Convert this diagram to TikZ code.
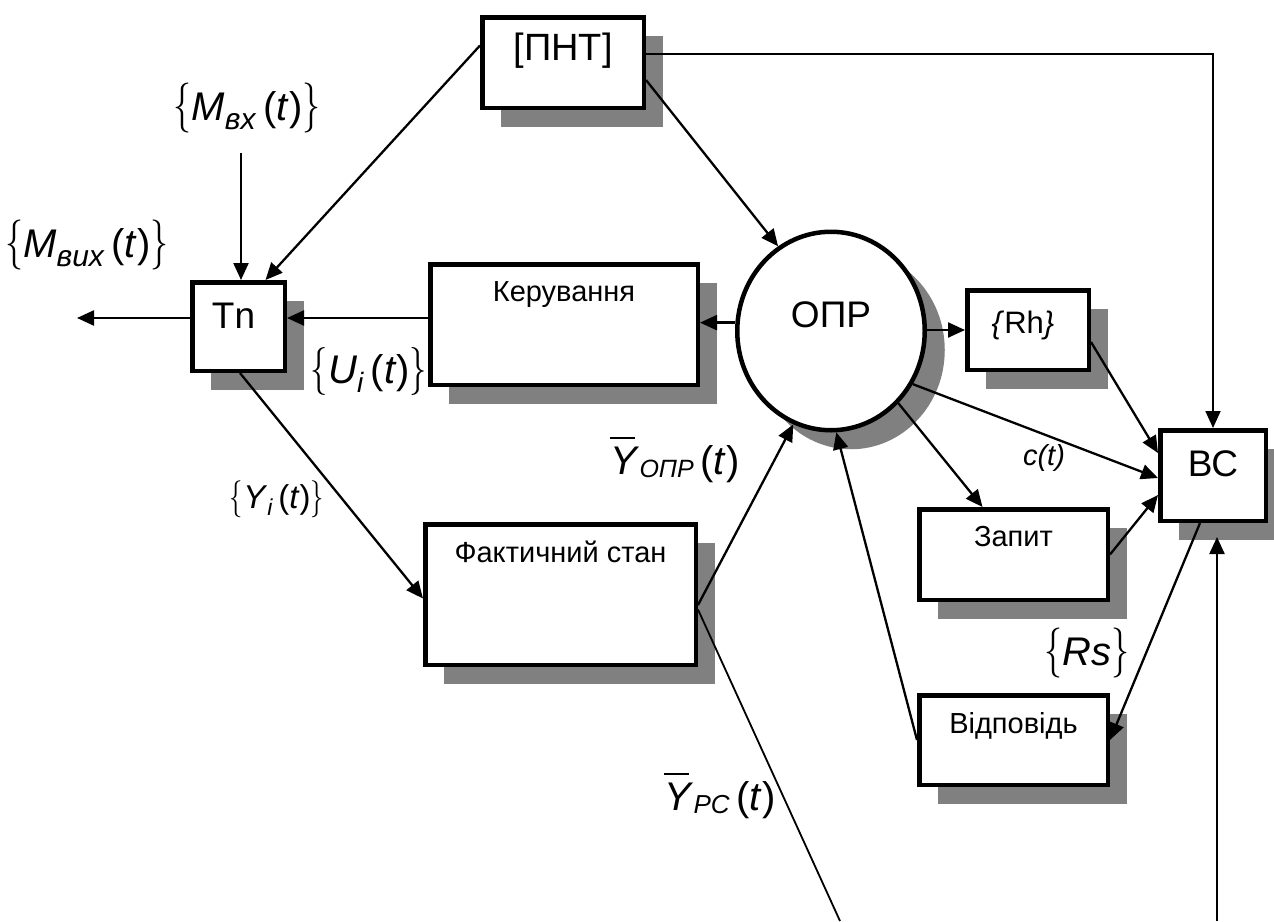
\RequirePackage{fix-cm}
\documentclass[tikz,border=0pt]{standalone}
\usepackage{fontspec}
\usepackage{graphicx}
\setmainfont{Liberation Sans}
\usetikzlibrary{arrows.meta,shapes.geometric,shadows,calc}
\definecolor{shade}{HTML}{808080}

% font size helper, braces, subscripts and the barred Y
\newcommand\fs[1]{\fontsize{#1}{#1}\selectfont}
\newcommand\lbr[1]{\scalebox{0.72}[1]{\fs{#1}$\{$}}
\newcommand\rbr[1]{\scalebox{0.72}[1]{\fs{#1}$\}$}}
\newcommand\sub[3]{\raisebox{-#1}{\fs{#2}\textit{#3}}}
\newcommand\ybar{\rlap{\rule[35pt]{25pt}{1.8pt}}\textit{Y}}

\begin{document}
\begin{tikzpicture}[x=1pt,y=-1pt,
  box/.style={draw, line width=4.5pt, fill=white, inner sep=0pt,
    drop shadow={shadow xshift=19pt, shadow yshift=-19pt, opacity=1, fill=shade}},
  roundbox/.style={ellipse, draw, line width=4.5pt, fill=white, inner sep=0pt,
    drop shadow={shadow xshift=20pt, shadow yshift=-19pt, opacity=1, fill=shade}},
  arr/.style={line width=2.3pt, -{Triangle[length=17pt,width=15pt]}},
  thin/.style={line width=1.8pt},
  thinarr/.style={line width=1.8pt, -{Triangle[length=17pt,width=15pt]}},
  lbl/.style={inner sep=0pt, font=\fs{40}},
  every label/.style={inner sep=0pt}]
\useasboundingbox (0,0) rectangle (1274,921);

% blocks
\node[box, minimum width=161.5pt, minimum height=90.5pt,
  label={[font=\fs{38}, yshift=12pt]center:{[ПНТ]}}] (pnt) at (563,62.5) {};
\node[box, minimum width=92.5pt, minimum height=88.5pt,
  label={[font=\fs{37}, xshift=-5pt, yshift=11pt]center:Tn}] (tn) at (238.5,326.5) {};
\node[box, minimum width=267.5pt, minimum height=120.5pt,
  label={[font=\fs{29}, yshift=29.5pt]center:Керування}] (ker) at (564,324.5) {};
\node[roundbox, minimum width=187.5pt, minimum height=198.5pt,
  label={[font=\fs{37}, yshift=16pt]center:ОПР}] (opr) at (831,331) {};
\node[box, minimum width=121.5pt, minimum height=79.5pt,
  label={[font=\fs{31}, xshift=-5pt, yshift=5pt]center:{\textit{\{}Rh\textit{\}}}}] (rh) at (1028,330) {};
\node[box, minimum width=105.5pt, minimum height=90.5pt,
  label={[font=\fs{37}, yshift=12pt]center:ВС}] (vs) at (1213,475.5) {};
\node[box, minimum width=188.5pt, minimum height=90.5pt,
  label={[font=\fs{29}, yshift=17.5pt]center:Запит}] (zap) at (1013.5,554.5) {};
\node[box, minimum width=188.5pt, minimum height=89.5pt,
  label={[font=\fs{29}, yshift=14pt]center:Відповідь}] (vid) at (1013.5,740) {};
\node[box, minimum width=270.5pt, minimum height=140.5pt,
  label={[font=\fs{29}, yshift=42.5pt]center:Фактичний стан}] (fakt) at (560.5,594.5) {};

% signal labels
\node[lbl] (mvyx) at (87,245) {\lbr{50}\textit{M}\sub{9pt}{30}{вих}\,(\textit{t})\rbr{50}};
\node[lbl] (mvx) at (247,108) {\lbr{50}\textit{M}\sub{9pt}{30}{вх}\,(\textit{t})\rbr{50}};
\node[lbl] (ui) at (369,371) {\lbr{48}\textit{U}\sub{9pt}{28}{i}\,(\textit{t})\rbr{48}};
\node[lbl, font=\fs{33}] (yi) at (277,499) {\lbr{37}\textit{Y}\sub{7pt}{23}{i}\,(\textit{t})\rbr{37}};
\node[lbl] (yopr) at (675,460) {\ybar\sub{3pt}{25}{ОПР}\,(\textit{t})};
\node[lbl] (ypc) at (720,796) {\ybar\sub{3pt}{26}{РС}\,(\textit{t})};
\node[lbl, font=\fs{29}] (ct) at (1044,458) {\textit{c(t)}};
\node[lbl] (rs) at (1087,653) {\lbr{50}\textit{Rs}\rbr{50}};

% free ends
\coordinate (inM) at (241,153);
\coordinate (outM) at (77,318);
\coordinate (inBS) at (1217,921);
\coordinate (outPC) at (840,921);

% connectors
\draw[arr] (inM) -- ($(tn.north)+(2.5,0)$);
\draw[arr] ($(pnt.west)+(0,-17)$) -- ($(tn.north)+(27,0)$);
\draw[arr] ($(tn.west)+(0,-8.5)$) -- (outM);
\draw[arr] ($(ker.west)+(0,-6.5)$) -- ($(tn.east)+(0,-8.5)$);
\draw[arr] (opr.175) -- (ker.east |- opr.175);
\draw[arr] ($(pnt.east)+(0,17.5)$) -- (opr.122);
\draw[thinarr] ($(pnt.east)+(0,-8.5)$) -| (vs.north);
\draw[arr] (opr.east |- rh.west) -- (rh.west);
\draw[arr] ($(rh.east)+(0,12)$) -- ($(vs.west)+(0,-22.5)$);
\draw[arr] (opr.327) -- ($(vs.west)+(0,2.5)$);
\draw[arr] (opr.313) -- ($(zap.north)+(-31,0)$);
\draw[arr] (zap.east) -- ($(vs.west)+(0,19.5)$);
\draw[arr] ($(vs.south)+(-13,0)$) -- (vid.east);
\draw[arr] (inBS) -- ($(vs.south)+(4,14)$);
\draw[arr] (vid.west) -- (opr.273);
\draw[arr] ($(fakt.east)+(0,10.5)$) -- (opr.248);
\draw[thin] ($(fakt.east)+(0,15)$) -- (outPC);
\draw[arr] ($(tn.south)+(1.5,0)$) -- ($(fakt.west)+(0,4)$);
\end{tikzpicture}
\end{document}
